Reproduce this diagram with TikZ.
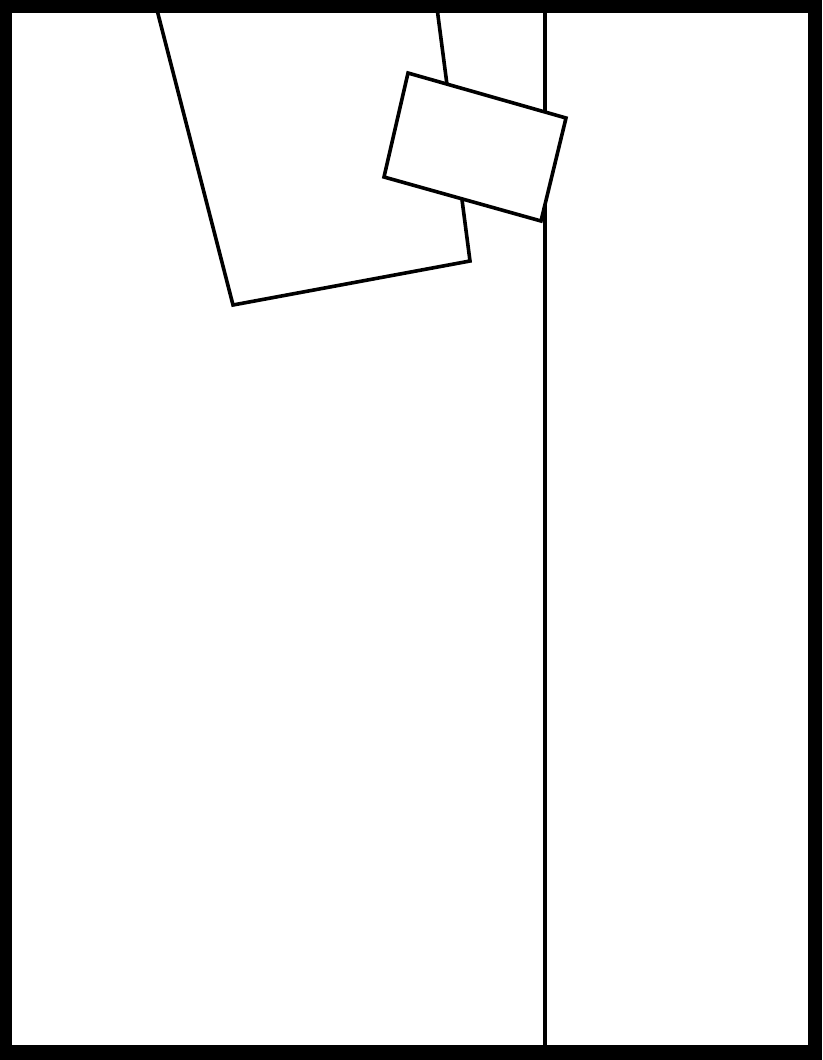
\documentclass[tikz,border=0pt]{standalone}
\begin{document}
\begin{tikzpicture}[x=1pt,y=-1pt,line join=miter,
  outline/.style={draw=black,line width=3.6pt}]
\useasboundingbox (0,0) rectangle (822,1060);
\fill[black] (0,0) rectangle (822,1060);
\fill[white] (12,12.5) rectangle (808,1044.5);
% vertical divider
\draw[outline] (545,12) -- (545,1045);
% big quadrilateral (top clipped by frame)
\begin{scope}
\clip (12,12.5) rectangle (808,1044.5);
\draw[outline] (156.5,8) -- (233,305) -- (470,261) -- (437,8);
\end{scope}
% small tilted rectangle on top
\filldraw[outline,fill=white] (408,73) -- (566,118) -- (541,221) -- (384,177) -- cycle;
\end{tikzpicture}
\end{document}
